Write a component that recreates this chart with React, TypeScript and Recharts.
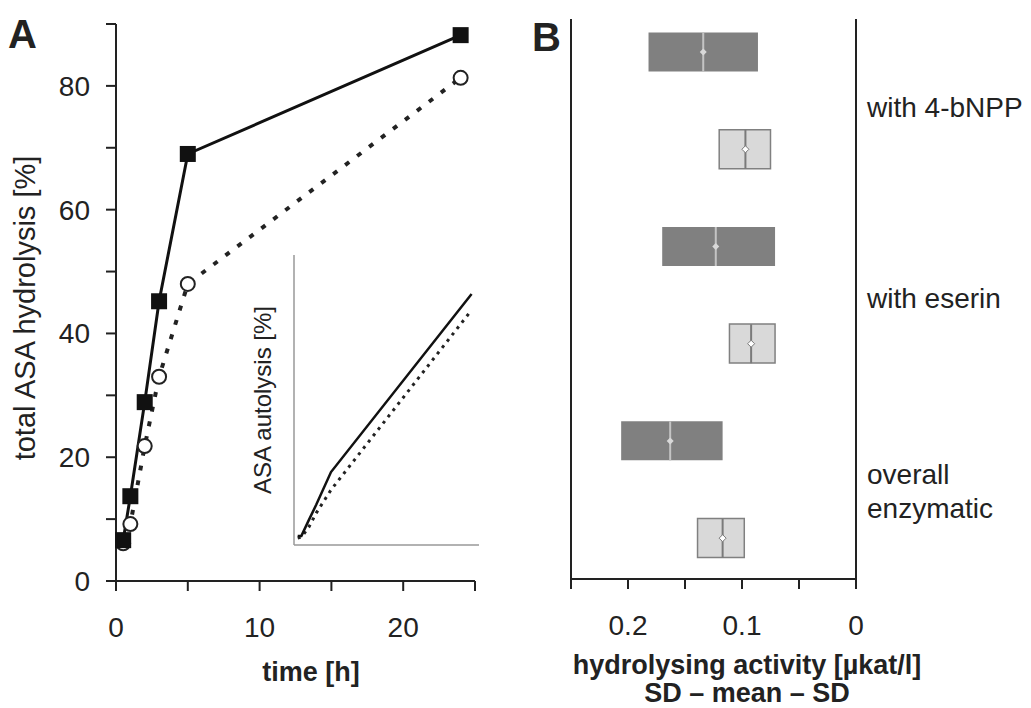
import { LineChart, Line, XAxis, YAxis, ComposedChart, Bar, Cell, Scatter } from 'recharts'

// panel A: total hydrolysis over time
const hours = [0.5, 1, 2, 3, 5, 24]
const squareSeries = [6.6, 13.7, 28.9, 45.2, 69.0, 88.2]
const circleSeries = [6.1, 9.2, 21.8, 33.0, 48.0, 81.3]
const xTicksA = [0, 5, 10, 15, 20, 25]
const yTicksA = [0, 10, 20, 30, 40, 50, 60, 70, 80, 90]

// inset: autolysis
const insetHours = [0.5, 1, 2, 3, 5, 24]
const insetSolid = [0.22, 0.22, 0.6, 0.97, 1.76, 6.06]
const insetDotted = [0.17, 0.19, 0.43, 0.77, 1.33, 5.67]
const insetXTicks = [0, 5, 10, 15, 20, 25]
const insetYTicks = [0, 1, 2, 3, 4, 5, 6]

// panel B: SD - mean - SD boxes, top to bottom
const rows = [0, 1, 2, 3, 4, 5]
const kinds = ['dark', 'light', 'dark', 'light', 'dark', 'light']
const sdLow = [0.086, 0.075, 0.071, 0.071, 0.117, 0.098]
const means = [0.134, 0.097, 0.123, 0.092, 0.163, 0.117]
const sdHigh = [0.182, 0.12, 0.17, 0.111, 0.206, 0.139]
const xTicksB = [0, 0.05, 0.1, 0.15, 0.2, 0.25]
const groupPos = [0.56, 2.53, 4.51]
const groupNames = [['with 4-bNPP'], ['with eserin'], ['overall', 'enzymatic']]

const font = '"Liberation Sans", Arial, sans-serif'
const ink = '#222'

const mainData = hours.map((t, i) => ({ t, sq: squareSeries[i], ci: circleSeries[i] }))
const insetData = insetHours.map((t, i) => ({ t, s: insetSolid[i], d: insetDotted[i] }))
const boxData = rows.map((row, i) => ({ row, range: [sdLow[i], sdHigh[i]], mean: means[i], kind: kinds[i] }))

const axisStyle = { stroke: ink, strokeWidth: 2 }
const tickText = { fill: ink, fontSize: 28, fontFamily: font }

function SquareDot(p: any) {
  return <rect key={`sq-${p.index}`} x={p.cx - 8} y={p.cy - 8} width={16} height={16} fill="#111" />
}
function CircleDot(p: any) {
  return <circle key={`ci-${p.index}`} cx={p.cx} cy={p.cy} r={7} fill="#fff" stroke={ink} strokeWidth={2} />
}

function MeanMark(p: any) {
  const dark = p.payload.kind === 'dark'
  const { cx, cy } = p
  return (
    <g>
      <line x1={cx} x2={cx} y1={cy - 19.5} y2={cy + 19.5} stroke={dark ? '#c4c4c4' : '#7a7a7a'} strokeWidth={2} />
      <path
        d={`M${cx},${cy - 3.5}L${cx + 3.5},${cy}L${cx},${cy + 3.5}L${cx - 3.5},${cy}Z`}
        fill={dark ? '#d8d8d8' : '#fff'}
        stroke={dark ? 'none' : '#7a7a7a'}
        strokeWidth={1}
      />
    </g>
  )
}

function GroupTick(p: any) {
  const idx = groupPos.indexOf(p.payload.value)
  const lines = groupNames[idx] || []
  const lh = 34
  return (
    <text x={p.x} y={p.y} textAnchor="start" fill={ink} fontSize={28} fontFamily={font}>
      {lines.map((s, i) => (
        <tspan key={s} x={p.x} y={p.y + (i - (lines.length - 1) / 2) * lh} dy="0.36em">
          {s}
        </tspan>
      ))}
    </text>
  )
}

const abs = (left: number, top: number): React.CSSProperties => ({
  position: 'absolute',
  left,
  top,
  fontFamily: font,
  color: ink,
  whiteSpace: 'nowrap',
  lineHeight: 1,
})

export default function App() {
  return (
    <div style={{ position: 'absolute', left: 0, top: 0, width: 1031, height: 708, background: '#fff', overflow: 'hidden' }}>
      <div style={{ position: 'absolute', left: 0, top: 0 }}>
        <LineChart width={520} height={708} data={mainData} margin={{ top: 24, right: 45, bottom: 67, left: 56 }}>
          <XAxis
            dataKey="t"
            type="number"
            domain={[0, 25]}
            ticks={xTicksA}
            tickFormatter={(v: number) => (v % 10 === 0 ? String(v) : '')}
            tickSize={10}
            tickMargin={26}
            height={60}
            axisLine={axisStyle}
            tickLine={axisStyle}
            tick={tickText}
          />
          <YAxis
            type="number"
            domain={[0, 90]}
            ticks={yTicksA}
            tickFormatter={(v: number) => (v % 20 === 0 ? String(v) : '')}
            tickSize={10}
            width={60}
            axisLine={axisStyle}
            tickLine={axisStyle}
            tick={{ ...tickText, dx: -14 }}
          />
          <Line dataKey="ci" stroke={ink} strokeWidth={4} strokeDasharray="5 10" dot={CircleDot} isAnimationActive={false} />
          <Line dataKey="sq" stroke="#111" strokeWidth={3} dot={SquareDot} isAnimationActive={false} />
        </LineChart>
      </div>

      <div style={{ position: 'absolute', left: 250, top: 240 }}>
        <LineChart width={240} height={320} data={insetData} margin={{ top: 15, right: 11, bottom: 10, left: 4 }}>
          <XAxis
            dataKey="t"
            type="number"
            domain={[0, 25]}
            ticks={insetXTicks}
            tick={false}
            tickSize={4}
            height={5}
            axisLine={{ stroke: '#999', strokeWidth: 1.5 }}
            tickLine={{ stroke: '#999', strokeWidth: 1 }}
          />
          <YAxis
            type="number"
            domain={[0, 7]}
            ticks={insetYTicks}
            tick={false}
            tickSize={4}
            width={40}
            axisLine={{ stroke: '#999', strokeWidth: 1.5 }}
            tickLine={{ stroke: '#999', strokeWidth: 1 }}
          />
          <Line dataKey="d" stroke={ink} strokeWidth={3} strokeDasharray="3 5" dot={false} isAnimationActive={false} />
          <Line dataKey="s" stroke="#111" strokeWidth={2.5} dot={false} isAnimationActive={false} />
        </LineChart>
      </div>

      <div style={{ position: 'absolute', left: 520, top: 0 }}>
        <ComposedChart width={511} height={708} layout="vertical" data={boxData} margin={{ top: 19, right: 0, bottom: 69, left: 0 }}>
          <XAxis
            xAxisId="b"
            type="number"
            domain={[0, 0.25]}
            reversed
            ticks={xTicksB}
            tickFormatter={(v: number) => (v === 0 || v === 0.1 || v === 0.2 ? String(v) : '')}
            tickSize={10}
            tickMargin={26}
            height={60}
            axisLine={axisStyle}
            tickLine={axisStyle}
            tick={tickText}
          />
          <XAxis xAxisId="t" orientation="top" type="number" domain={[0, 0.25]} reversed tick={false} tickLine={false} height={0} axisLine={axisStyle} />
          <YAxis
            yAxisId="l"
            dataKey="row"
            type="number"
            domain={[-0.34, 5.42]}
            allowDataOverflow
            ticks={rows}
            tick={false}
            tickLine={false}
            width={51}
            axisLine={axisStyle}
          />
          <YAxis
            yAxisId="r"
            dataKey="row"
            orientation="right"
            type="number"
            domain={[-0.34, 5.42]}
            allowDataOverflow
            ticks={groupPos}
            tick={GroupTick}
            tickLine={false}
            tickSize={0}
            tickMargin={11}
            width={175}
            axisLine={axisStyle}
          />
          <Bar xAxisId="b" yAxisId="l" dataKey="range" barSize={39} isAnimationActive={false}>
            {boxData.map((d) => (
              <Cell
                key={d.row}
                fill={d.kind === 'dark' ? '#808080' : '#d9d9d9'}
                stroke={d.kind === 'dark' ? 'none' : '#808080'}
                strokeWidth={1.5}
              />
            ))}
          </Bar>
          <Scatter xAxisId="b" yAxisId="l" data={boxData} dataKey="mean" shape={MeanMark} isAnimationActive={false} />
        </ComposedChart>
      </div>

      <div style={{ ...abs(8, 14), fontSize: 40, fontWeight: 'bold' }}>A</div>
      <div style={{ ...abs(532, 17), fontSize: 40, fontWeight: 'bold' }}>B</div>

      <div style={{ ...abs(25, 308), fontSize: 29, transform: 'translate(-50%, -50%) rotate(-90deg)' }}>total ASA hydrolysis [%]</div>
      <div style={{ ...abs(263, 400), fontSize: 24, transform: 'translate(-50%, -50%) rotate(-90deg)' }}>ASA autolysis [%]</div>
      <div style={{ ...abs(311, 659), fontSize: 27, fontWeight: 'bold', transform: 'translateX(-50%)' }}>time [h]</div>
      <div style={{ ...abs(747, 652), fontSize: 27, fontWeight: 'bold', transform: 'translateX(-50%)' }}>hydrolysing activity [µkat/l]</div>
      <div style={{ ...abs(747, 680), fontSize: 27, fontWeight: 'bold', transform: 'translateX(-50%)' }}>SD – mean – SD</div>
    </div>
  )
}
